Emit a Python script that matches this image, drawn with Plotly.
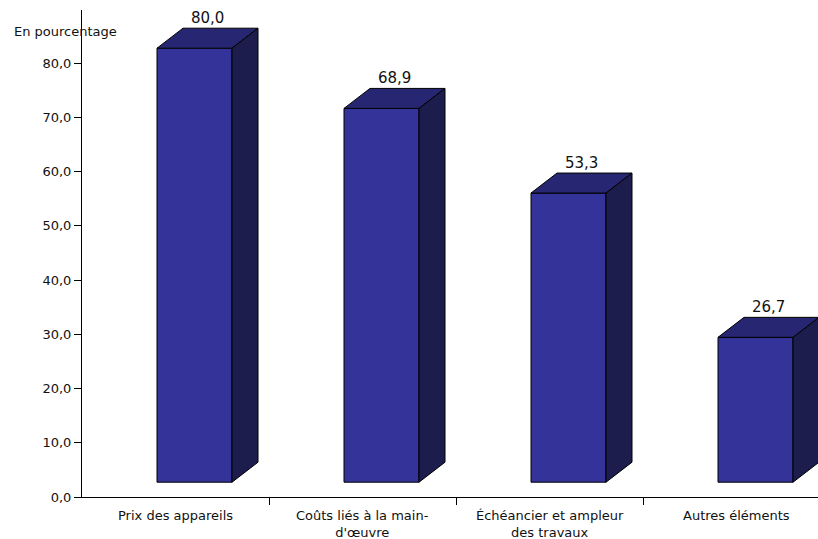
import plotly.graph_objects as go

# Data
categories = ["Prix des appareils", "Coûts liés à la main-<br>d'œuvre",
              "Échéancier et ampleur<br>des travaux", "Autres éléments"]
values = [80.0, 68.9, 53.3, 26.7]
y_ticks = [0, 10, 20, 30, 40, 50, 60, 70, 80]

# Pixel geometry of the plot
W, H = 818, 539
M_L, M_R, M_T, M_B = 82, 0, 10, 42
PX_PER_CAT = 187.0
PX_PER_UNIT = 5.425
plot_w = W - M_L - M_R
plot_h = H - M_T - M_B
x_max = plot_w / PX_PER_CAT
y_max = plot_h / PX_PER_UNIT

# 3D box geometry (in axis units)
front_left = 75 / PX_PER_CAT
front_right = 150 / PX_PER_CAT
depth_x = 26 / PX_PER_CAT
depth_y = 20 / PX_PER_UNIT
lift = 14.8 / PX_PER_UNIT

FRONT = "#333399"
TOP = "#262673"
SIDE = "#1c1c4d"
TEXT = "#111"
FONT = "DejaVu Sans"

fig = go.Figure()


def face(xs, ys, color):
    fig.add_trace(go.Scatter(
        x=xs + [xs[0]], y=ys + [ys[0]], mode="lines", fill="toself",
        fillcolor=color, line=dict(color="black", width=1),
        hoverinfo="skip", showlegend=False))


annotations = []
for i, v in enumerate(values):
    x0 = i + front_left
    x1 = i + front_right
    y0 = lift
    y1 = lift + v
    # front
    face([x0, x1, x1, x0], [y0, y0, y1, y1], FRONT)
    # top
    face([x0, x1, x1 + depth_x, x0 + depth_x],
         [y1, y1, y1 + depth_y, y1 + depth_y], TOP)
    # right side
    face([x1, x1 + depth_x, x1 + depth_x, x1],
         [y0, y0 + depth_y, y1 + depth_y, y1], SIDE)
    # value label above the box
    annotations.append(dict(
        x=(x0 + x1 + depth_x) / 2, y=y1 + depth_y, xref="x", yref="y",
        text=f"{v:.1f}".replace(".", ","), showarrow=False,
        yanchor="middle", yshift=10,
        font=dict(family=FONT, size=15, color=TEXT)))
    # category label below the axis
    annotations.append(dict(
        x=i + 0.5, y=0, xref="x", yref="paper", text=categories[i],
        showarrow=False, yanchor="top", yshift=-9,
        font=dict(family=FONT, size=13, color=TEXT)))

# unit label above the y axis
annotations.append(dict(
    xref="paper", yref="paper",
    x=(12 - M_L) / plot_w, y=(H - M_B - 31) / plot_h,
    text="En pourcentage", showarrow=False,
    xanchor="left", yanchor="middle",
    font=dict(family=FONT, size=13, color=TEXT)))

fig.update_layout(
    width=W, height=H,
    margin=dict(l=M_L, r=M_R, t=M_T, b=M_B),
    paper_bgcolor="white", plot_bgcolor="white",
    separators=", ",
    font=dict(family=FONT, size=13, color=TEXT),
    xaxis=dict(range=[0, x_max], showgrid=False, zeroline=False,
               showline=True, linecolor="black", linewidth=1,
               tickvals=[1, 2, 3], ticks="outside", ticklen=7,
               tickcolor="black", showticklabels=False, fixedrange=True),
    yaxis=dict(range=[0, y_max], showgrid=False, zeroline=False,
               showline=True, linecolor="black", linewidth=1,
               tickvals=y_ticks, tickformat=".1f", ticks="outside",
               ticklen=7, tickcolor="black", fixedrange=True,
               tickfont=dict(family=FONT, size=13, color=TEXT)),
    annotations=annotations,
)

fig.write_html("out.html")
